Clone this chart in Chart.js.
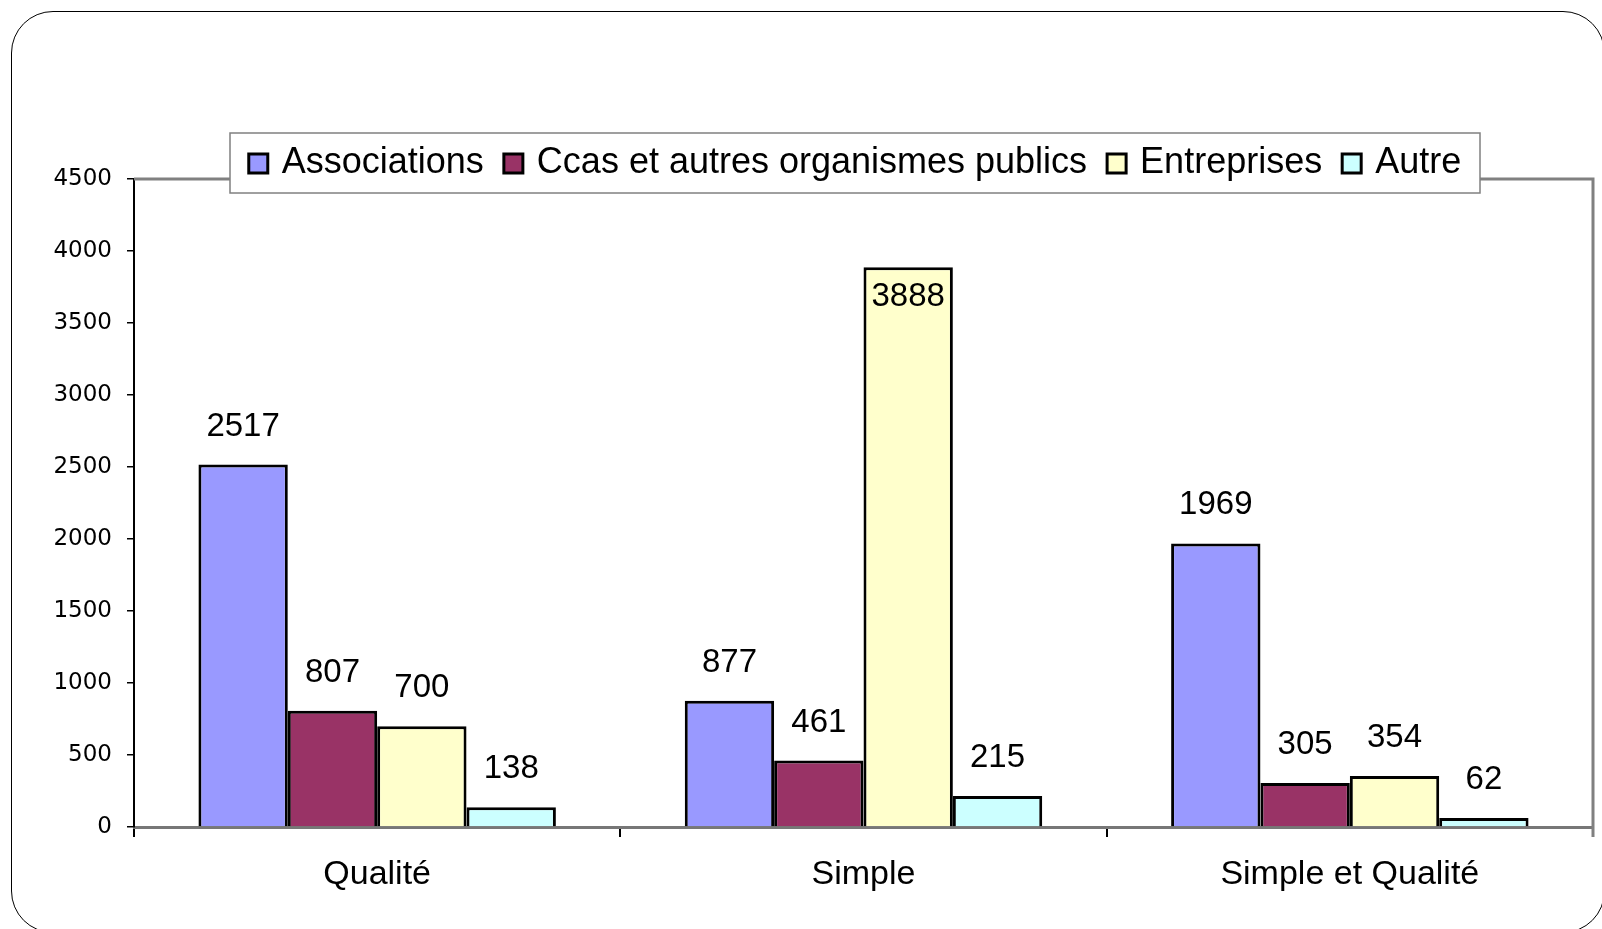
<!DOCTYPE html>
<html>
<head>
<meta charset="utf-8">
<script src="https://cdn.jsdelivr.net/npm/chart.js@4"></script>
<style>
  html, body { margin: 0; padding: 0; background: #fff; overflow: hidden; }
  #wrap { position: relative; width: 1602px; height: 929px; }
  #frame {
    position: absolute; left: 11px; top: 11px; width: 1594px; height: 922px;
    border: 1.5px solid #000; border-radius: 42px; box-sizing: border-box;
  }
  #chart { position: absolute; left: 0; top: 0; }
</style>
</head>
<body>
<div id="wrap">
  <div id="frame"></div>
  <canvas id="chart" width="1602" height="929"></canvas>
</div>
<script>
// --- DONNEES ---
const categories = ['Qualité', 'Simple', 'Simple et Qualité'];
const seriesNames = ['Associations', 'Ccas et autres organismes publics', 'Entreprises', 'Autre'];
const associations = [2517, 877, 1969];
const ccas = [807, 461, 305];
const entreprises = [700, 3888, 354];
const autre = [138, 215, 62];
const yMax = 4500;
const yStep = 500;

const seriesColors = ['#9999FF', '#993366', '#FFFFCC', '#CCFFFF'];
const FONT = '"Liberation Sans", Arial, sans-serif';

Chart.defaults.font.family = FONT;
Chart.defaults.color = '#000';

// cadre gris haut + droite de la zone de tracé
const plotFrame = {
    id: 'plotFrame',
    beforeDatasetsDraw(chart) {
        const a = chart.chartArea;
        const ctx = chart.ctx;
        ctx.save();
        ctx.strokeStyle = '#808080';
        ctx.lineWidth = 3;
        ctx.beginPath();
        ctx.moveTo(a.left, a.top);
        ctx.lineTo(a.right, a.top);
        ctx.lineTo(a.right, a.bottom + 10);
        ctx.stroke();
        ctx.restore();
    }
};

// valeurs au-dessus des barres
const valueLabels = {
    id: 'valueLabels',
    afterDatasetsDraw(chart) {
        const ctx = chart.ctx;
        const top = chart.chartArea.top;
        ctx.save();
        ctx.font = '33px ' + FONT;
        ctx.fillStyle = '#000';
        ctx.textAlign = 'center';
        ctx.textBaseline = 'alphabetic';
        chart.data.datasets.forEach((ds, i) => {
            chart.getDatasetMeta(i).data.forEach((bar, j) => {
                let y = bar.y - 29;
                if (y - 24 < top + 40) y = bar.y + 39; // pas la place -> dans la barre
                ctx.fillText(String(ds.data[j]), bar.x, y);
            });
        });
        ctx.restore();
    }
};

// légende par-dessus le cadre
const boxLegend = {
    id: 'boxLegend',
    afterDraw(chart) {
        const ctx = chart.ctx;
        const bx = 230, by = 133, bw = 1250, bh = 60;
        ctx.save();
        ctx.fillStyle = '#fff';
        ctx.fillRect(bx, by, bw, bh);
        ctx.strokeStyle = '#808080';
        ctx.lineWidth = 1.5;
        ctx.strokeRect(bx, by, bw, bh);

        ctx.font = '36px ' + FONT;
        const sq = 19, gapText = 14, gapItem = 20;
        const widths = chart.data.datasets.map(ds => ctx.measureText(ds.label).width);
        const total = widths.reduce((s, w) => s + sq + gapText + w, 0) + gapItem * (widths.length - 1);
        let x = bx + (bw - total) / 2;
        chart.data.datasets.forEach((ds, i) => {
            ctx.fillStyle = ds.backgroundColor;
            ctx.fillRect(x, 154, sq, sq);
            ctx.strokeStyle = '#000';
            ctx.lineWidth = 3;
            ctx.strokeRect(x, 154, sq, sq);
            ctx.fillStyle = '#000';
            ctx.textBaseline = 'alphabetic';
            ctx.fillText(ds.label, x + sq + gapText, 173);
            x += sq + gapText + widths[i] + gapItem;
        });
        ctx.restore();
    }
};

const seriesData = [associations, ccas, entreprises, autre];

new Chart(document.getElementById('chart'), {
    type: 'bar',
    data: {
        labels: categories,
        datasets: seriesNames.map((name, i) => ({
            label: name,
            data: seriesData[i],
            backgroundColor: seriesColors[i],
            borderColor: '#000',
            borderWidth: 3,
            categoryPercentage: 0.735,
            barPercentage: 1.0
        }))
    },
    options: {
        responsive: false,
        animation: false,
        layout: { padding: { top: 179, right: 9, left: 0, bottom: 0 } },
        plugins: {
            legend: { display: false },
            tooltip: { enabled: false }
        },
        scales: {
            x: {
                offset: true,
                grid: { offset: true, drawOnChartArea: false, drawTicks: true, tickLength: 10, color: '#000', lineWidth: 2 },
                border: { display: true, color: '#777', width: 3 },
                ticks: { font: { size: 34 }, color: '#000', padding: 17 },
                afterFit(s) { s.height = 102; }
            },
            y: {
                min: 0,
                max: yMax,
                grid: { drawOnChartArea: false, drawTicks: true, tickLength: 7, color: '#000', lineWidth: 1.5 },
                border: { display: true, color: '#000', width: 2 },
                ticks: {
                    stepSize: yStep,
                    font: { size: 23, family: '"DejaVu Sans", sans-serif' },
                    color: '#000',
                    padding: 15,
                    callback: v => String(v)
                },
                afterFit(s) { s.width = 134; }
            }
        }
    },
    plugins: [plotFrame, valueLabels, boxLegend]
});
</script>
</body>
</html>
